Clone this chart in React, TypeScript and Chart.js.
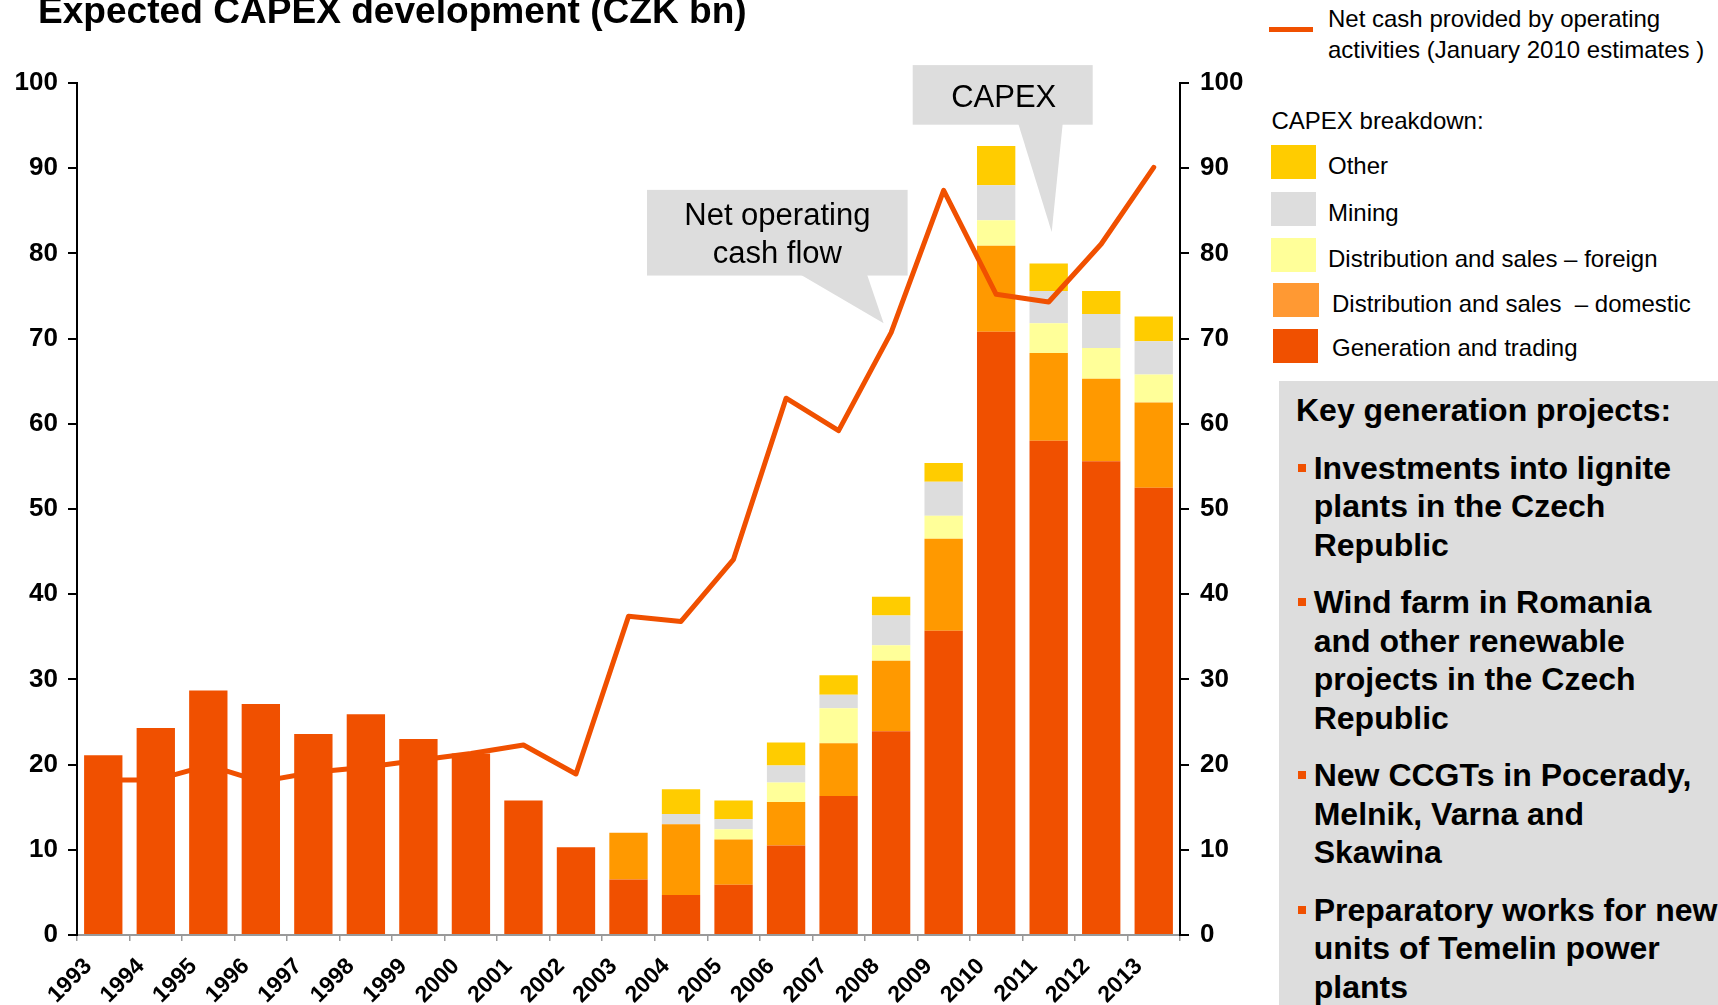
import React, { useEffect, useRef } from 'react';
import { Chart, registerables } from 'chart.js';

Chart.register(...registerables);

// ---------------- data ----------------
const years = ['1993', '1994', '1995', '1996', '1997', '1998', '1999', '2000', '2001', '2002', '2003', '2004', '2005', '2006', '2007', '2008', '2009', '2010', '2011', '2012', '2013'];
const generationTrading = [21.1, 24.3, 28.7, 27.1, 23.6, 25.9, 23.0, 21.3, 15.8, 10.3, 6.5, 4.7, 5.9, 10.5, 16.3, 23.9, 35.7, 70.8, 58.0, 55.6, 52.5];
const distributionDomestic = [0, 0, 0, 0, 0, 0, 0, 0, 0, 0, 5.5, 8.3, 5.3, 5.1, 6.2, 8.3, 10.8, 10.1, 10.3, 9.7, 10.0];
const distributionForeign = [0, 0, 0, 0, 0, 0, 0, 0, 0, 0, 0, 0, 1.2, 2.3, 4.1, 1.8, 2.7, 3.0, 3.5, 3.6, 3.3];
const mining = [0, 0, 0, 0, 0, 0, 0, 0, 0, 0, 0, 1.2, 1.2, 2.0, 1.6, 3.5, 4.0, 4.1, 3.8, 4.0, 3.9];
const other = [0, 0, 0, 0, 0, 0, 0, 0, 0, 0, 0, 2.9, 2.2, 2.7, 2.3, 2.2, 2.2, 4.6, 3.2, 2.7, 2.9];
const netOperatingCash = [18.2, 18.2, 19.9, 18.0, 19.1, 19.7, 20.5, 21.3, 22.3, 18.9, 37.4, 36.8, 44.1, 63.0, 59.2, 70.7, 87.4, 75.2, 74.3, 81.1, 90.1];
const lastActualYear = '2002';
const yMin = 0;
const yMax = 100;
const yStep = 10;

// ---------------- texts ----------------
const titleText = 'Expected CAPEX development (CZK bn)';
const lineLegendLines = ['Net cash provided by operating', 'activities (January 2010 estimates )'];
const breakdownHeader = 'CAPEX breakdown:';
const labelOther = 'Other';
const labelMining = 'Mining';
const labelForeign = 'Distribution and sales \u2013 foreign';
const labelDomestic = 'Distribution and sales  \u2013 domestic';
const labelGeneration = 'Generation and trading';
const labelLine = 'Net cash provided by operating activities (January 2010 estimates )';
const projectsTitle = 'Key generation projects:';
const projectParagraphs = [
  ['Investments into lignite', 'plants in the Czech', 'Republic'],
  ['Wind farm in Romania', 'and other renewable', 'projects in the Czech', 'Republic'],
  ['New CCGTs in Pocerady,', 'Melnik, Varna and', 'Skawina'],
  ['Preparatory works for new', 'units of Temelin power', 'plants'],
];
const calloutCashLines = ['Net operating', 'cash flow'];
const calloutCapexLines = ['CAPEX'];

// ---------------- styles ----------------
const FONT = '"Liberation Sans", Arial, Helvetica, sans-serif';
const C_GEN = '#F05000';
const C_DOM = '#FF9900';
const C_DOM_LEGEND = '#FF9933';
const C_FOR = '#FFFF99';
const C_MIN = '#DDDDDD';
const C_OTH = '#FFCC00';
const C_LINE = '#F05000';
const C_BOX = '#DDDDDD';

// callouts anchored to data (tip), box geometry relative to the tip in px
const callouts = [
  { lines: calloutCashLines, year: '2008', value: 71.8, dx: -7.5, box: [-236.6, -133.4, 260.6, 85.7], base: [-83.3, -16.6], textDx: 0, firstCenter: -109.6, lineGap: 38.3 },
  { lines: calloutCapexLines, year: '2011', value: 82.5, dx: 3, box: [-139, -167, 180, 59.6], base: [-33.4, 11], textDx: 1, firstCenter: -136, lineGap: 38 },
];

const calloutPlugin = {
  id: 'callouts',
  afterDraw(chart: any) {
    const ctx = chart.ctx as CanvasRenderingContext2D;
    const xs = chart.scales.x;
    const ys = chart.scales.y;
    for (const c of callouts) {
      const tx = xs.getPixelForValue(years.indexOf(c.year)) + c.dx;
      const ty = ys.getPixelForValue(c.value);
      const [bl, bt, bw, bh] = c.box;
      ctx.save();
      ctx.fillStyle = C_BOX;
      ctx.fillRect(tx + bl, ty + bt, bw, bh);
      const by = ty + bt + bh;
      ctx.beginPath();
      ctx.moveTo(tx + c.base[0], by - 1);
      ctx.lineTo(tx + c.base[1], by - 1);
      ctx.lineTo(tx, ty);
      ctx.closePath();
      ctx.fill();
      ctx.fillStyle = '#000';
      ctx.font = `31px ${FONT}`;
      ctx.textAlign = 'center';
      ctx.textBaseline = 'alphabetic';
      const cx = tx + bl + bw / 2 + c.textDx;
      c.lines.forEach((t, i) => {
        const cy = ty + c.firstCenter + i * c.lineGap;
        ctx.fillText(t, cx, cy + 11);
      });
      ctx.restore();
    }
  },
};

function Line({ x, cy, size, lh, bold, children, pre }: any) {
  return (
    <div
      style={{
        position: 'absolute',
        left: x,
        top: cy - lh / 2,
        height: lh,
        lineHeight: `${lh}px`,
        fontSize: size,
        fontWeight: bold ? 700 : 400,
        fontFamily: FONT,
        color: '#000',
        whiteSpace: pre ? 'pre' : 'nowrap',
      }}
    >
      {children}
    </div>
  );
}

const legendItems = [
  { label: labelOther, color: C_OTH, sw: [1271, 145, 45, 34], tx: 1328, cy: 165.7 },
  { label: labelMining, color: C_MIN, sw: [1271, 192, 45, 34], tx: 1328, cy: 213 },
  { label: labelForeign, color: C_FOR, sw: [1271, 238, 45, 34], tx: 1328, cy: 259 },
  { label: labelDomestic, color: C_DOM_LEGEND, sw: [1273, 283, 46, 34], tx: 1332, cy: 304 },
  { label: labelGeneration, color: C_GEN, sw: [1273, 329, 45, 34], tx: 1332, cy: 348 },
];

export default function App() {
  const canvasRef = useRef<HTMLCanvasElement>(null);

  useEffect(() => {
    const actualIdx = years.indexOf(lastActualYear);
    const genActual = generationTrading.map((v, i) => (i <= actualIdx ? v : null));
    const genForecast = generationTrading.map((v, i) => (i > actualIdx ? v : null));
    const barCommon = { borderWidth: 0, barPercentage: 0.73, categoryPercentage: 1.0, yAxisID: 'y', stack: 'capex' };
    const chart = new Chart(canvasRef.current as HTMLCanvasElement, {
      type: 'bar',
      data: {
        labels: years,
        datasets: [
          { ...barCommon, label: labelGeneration, data: genActual, backgroundColor: C_GEN, order: 0 },
          { ...barCommon, label: labelGeneration, data: genForecast, backgroundColor: C_GEN, order: 2 },
          { ...barCommon, label: labelDomestic, data: distributionDomestic, backgroundColor: C_DOM, order: 2 },
          { ...barCommon, label: labelForeign, data: distributionForeign, backgroundColor: C_FOR, order: 2 },
          { ...barCommon, label: labelMining, data: mining, backgroundColor: C_MIN, order: 2 },
          { ...barCommon, label: labelOther, data: other, backgroundColor: C_OTH, order: 2 },
          {
            type: 'line',
            label: labelLine,
            data: netOperatingCash,
            borderColor: C_LINE,
            borderWidth: 5,
            pointRadius: 0,
            tension: 0,
            fill: false,
            borderJoinStyle: 'round',
            borderCapStyle: 'round',
            yAxisID: 'y2',
            order: 1,
          } as any,
        ],
      },
      options: {
        responsive: false,
        animation: false,
        events: [],
        layout: { padding: { top: 83, left: 0, right: 0, bottom: 0 } },
        plugins: { legend: { display: false }, tooltip: { enabled: false }, title: { display: false } },
        scales: {
          x: {
            stacked: true,
            offset: true,
            grid: { display: true, drawOnChartArea: false, drawTicks: true, tickLength: 6, color: '#999999', lineWidth: 1.5, offset: true },
            border: { display: true, color: '#999999', width: 2 },
            ticks: {
              autoSkip: false,
              minRotation: 45,
              maxRotation: 45,
              labelOffset: -15,
              padding: 12,
              color: '#000',
              font: { family: FONT, size: 23, weight: 'bold' },
            },
            afterFit: (s: any) => { s.height = 70; },
          },
          y: {
            stacked: true,
            position: 'left',
            min: yMin,
            max: yMax,
            grid: { display: true, drawOnChartArea: false, drawTicks: true, tickLength: 9, color: '#000', lineWidth: 2 },
            border: { display: true, color: '#000', width: 2 },
            ticks: { stepSize: yStep, padding: 10, color: '#000', font: { family: FONT, size: 26, weight: 'bold' } },
            afterFit: (s: any) => { s.width = 77; },
          },
          y2: {
            position: 'right',
            min: yMin,
            max: yMax,
            grid: { display: true, drawOnChartArea: false, drawTicks: true, tickLength: 9, color: '#000', lineWidth: 2 },
            border: { display: true, color: '#000', width: 2 },
            ticks: { stepSize: yStep, padding: 11, color: '#000', font: { family: FONT, size: 26, weight: 'bold' } },
            afterFit: (s: any) => { s.width = 80; },
          },
        },
      } as any,
      plugins: [calloutPlugin],
    });
    return () => chart.destroy();
  }, []);

  const paraStarts: number[] = [];
  {
    let cy = 467.9;
    for (const p of projectParagraphs) {
      paraStarts.push(cy);
      cy += p.length * 38.5 + 19;
    }
  }

  return (
    <div style={{ position: 'absolute', left: 0, top: 0, width: 1718, height: 1005, overflow: 'hidden', background: '#fff', fontFamily: FONT }}>
      <canvas ref={canvasRef} width={1260} height={1005} style={{ position: 'absolute', left: 0, top: 0, width: 1260, height: 1005 }} />

      {/* title */}
      <Line x={38} cy={9.5} size={37.1} lh={40} bold>{titleText}</Line>

      {/* line legend */}
      <div style={{ position: 'absolute', left: 1269, top: 27, width: 44, height: 5, background: C_LINE }} />
      {lineLegendLines.map((t, i) => (
        <Line key={t} x={1328} cy={18.5 + i * 31.7} size={24} lh={31.7}>{t}</Line>
      ))}

      {/* capex breakdown legend */}
      <Line x={1271.5} cy={120.7} size={24} lh={31.7}>{breakdownHeader}</Line>
      {legendItems.map((it) => (
        <React.Fragment key={it.label}>
          <div style={{ position: 'absolute', left: it.sw[0], top: it.sw[1], width: it.sw[2], height: it.sw[3], background: it.color }} />
          <Line x={it.tx} cy={it.cy} size={24} lh={31.7} pre>{it.label}</Line>
        </React.Fragment>
      ))}

      {/* key projects box */}
      <div style={{ position: 'absolute', left: 1278.7, top: 381.3, right: 0, bottom: 0, background: C_BOX }} />
      <Line x={1296} cy={409.8} size={32} lh={38.5} bold>{projectsTitle}</Line>
      {projectParagraphs.map((p, pi) => (
        <React.Fragment key={pi}>
          <div style={{ position: 'absolute', left: 1298.3, top: paraStarts[pi] - 4, width: 8, height: 8, background: C_GEN }} />
          {p.map((t, li) => (
            <Line key={t + li} x={1313.7} cy={paraStarts[pi] + li * 38.5} size={32} lh={38.5} bold>{t}</Line>
          ))}
        </React.Fragment>
      ))}
    </div>
  );
}
